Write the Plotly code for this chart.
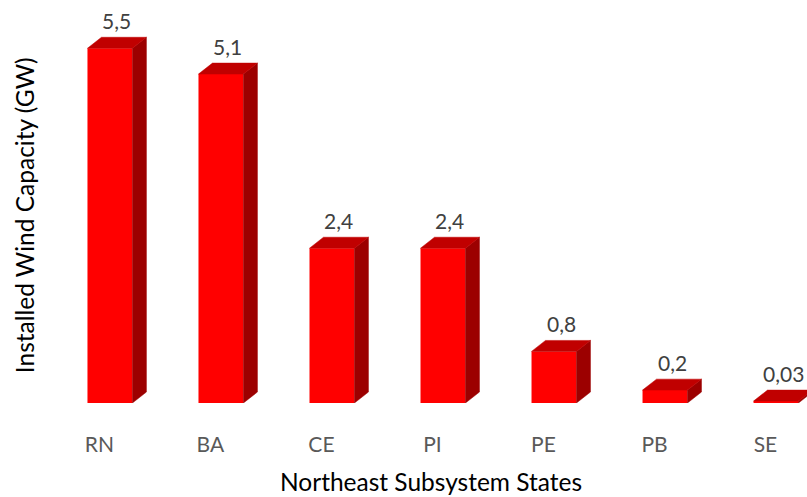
import plotly.graph_objects as go

# Installed wind capacity by state (GW)
states = ["RN", "BA", "CE", "PI", "PE", "PB", "SE"]
capacity_gw = [5.5, 5.1, 2.4, 2.4, 0.8, 0.2, 0.03]

FRONT = "#FF0000"
TOP = "#C00000"
SIDE = "#9C0000"
FONT = "Lato"

bar_w = 0.405        # front face width (category units)
depth_x = 0.126      # oblique depth offset, x (category units)
depth_y = 0.17       # oblique depth offset, y (GW units)
label_shift = 0.095  # category labels sit slightly left of bar centres

xs = list(range(len(states)))

fig = go.Figure()

# front faces
fig.add_trace(go.Bar(
    x=xs, y=capacity_gw, width=bar_w, marker=dict(color=FRONT, line=dict(width=0)),
    hoverinfo="skip", showlegend=False,
))

# side and top faces as filled polygons built from the values
side_x, side_y, top_x, top_y = [], [], [], []
for x, v in zip(xs, capacity_gw):
    r = x + bar_w / 2
    l = x - bar_w / 2
    side_x += [r, r + depth_x, r + depth_x, r, r, None]
    side_y += [0, depth_y, v + depth_y, v, 0, None]
    top_x += [l, l + depth_x, r + depth_x, r, l, None]
    top_y += [v, v + depth_y, v + depth_y, v, v, None]

fig.add_trace(go.Scatter(x=side_x, y=side_y, mode="lines", fill="toself",
                         fillcolor=SIDE, line=dict(width=0.5, color=SIDE),
                         hoverinfo="skip", showlegend=False))
fig.add_trace(go.Scatter(x=top_x, y=top_y, mode="lines", fill="toself",
                         fillcolor=TOP, line=dict(width=0.5, color=TOP),
                         hoverinfo="skip", showlegend=False))

# value labels with decimal comma
for x, v in zip(xs, capacity_gw):
    fig.add_annotation(x=x + depth_x / 2, y=v + depth_y, xref="x", yref="y",
                       text=str(v).replace(".", ","), showarrow=False,
                       yanchor="bottom", yshift=2,
                       font=dict(family=FONT, size=21, color="#404040"))

fig.add_annotation(x=0.5, y=0, xref="paper", yref="paper",
                   text="Northeast Subsystem States", showarrow=False,
                   yanchor="middle", yshift=-78,
                   font=dict(family=FONT, size=24.5, color="#000000"))
fig.add_annotation(x=0, y=0.466, xref="paper", yref="paper", xshift=-31,
                   text="Installed Wind Capacity (GW)", showarrow=False,
                   textangle=-90, xanchor="center",
                   font=dict(family=FONT, size=24.5, color="#000000"))

fig.update_layout(
    width=807, height=497,
    margin=dict(l=55, r=0, t=0, b=94),
    paper_bgcolor="white", plot_bgcolor="white",
    xaxis=dict(range=[-0.495, 6.279], tickmode="array",
               tickvals=[x - label_shift for x in xs], ticktext=states,
               showgrid=False, zeroline=False, showline=False,
               ticks="outside", ticklen=23, tickcolor="rgba(0,0,0,0)",
               tickfont=dict(family=FONT, size=21, color="#595959")),
    yaxis=dict(range=[0, 6.248], visible=False),
)

fig.write_html("out.html")
